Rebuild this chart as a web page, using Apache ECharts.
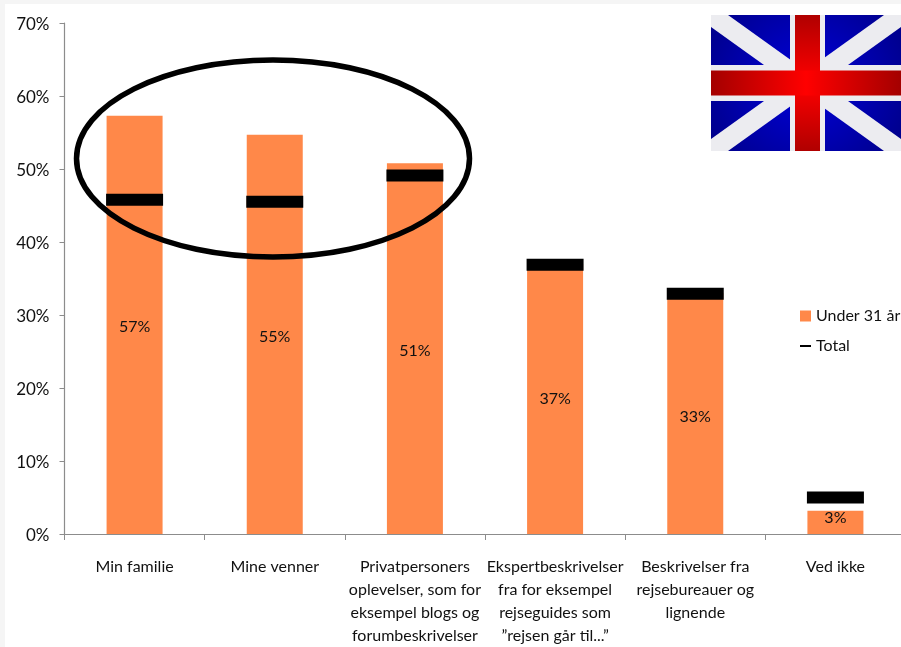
<!DOCTYPE html>
<html>
<head>
<meta charset="utf-8">
<style>
  html, body { margin: 0; padding: 0; width: 901px; height: 647px; background: #f5f5f5; overflow: hidden; }
  #sheet { position: absolute; left: 5px; top: 4px; right: 0; bottom: 0; background: #ffffff; }
  #chart { position: absolute; left: 0; top: 0; width: 930px; height: 647px; }
</style>
</head>
<body>
<div id="sheet"></div>
<div id="chart"></div>
<script src="https://cdn.jsdelivr.net/npm/echarts@6/dist/echarts.min.js"></script>
<script>
const categories = [
  'Min familie',
  'Mine venner',
  'Privatpersoners\noplevelser, som for\neksempel blogs og\nforumbeskrivelser',
  'Ekspertbeskrivelser\nfra for eksempel\nrejseguides som\n”rejsen går til...”',
  'Beskrivelser fra\nrejsebureauer og\nlignende',
  'Ved ikke'
];
const under31 = [57.3, 54.7, 50.8, 37, 33, 3.2];
const total = [45.8, 45.5, 49.1, 36.9, 32.9, 5.0];
const yTicks = [0, 10, 20, 30, 40, 50, 60, 70];
const labelNudge = [2, 2, 2, 0, 3, -4];

const FONT = 'Lato';
const INK = '#111111';
const AXIS = '#8c8c8c';

// Flag emblem, drawn in local coordinates inside a group in the upper right corner
const W = 190, H = 136, CX = 96, CY = 68;
const flagBlue = { type: 'radial', x: 0.5, y: 0.5, r: 0.85, colorStops: [
  { offset: 0, color: '#0000dc' }, { offset: 1, color: '#000088' } ] };
const redAcross = { type: 'linear', x: 0, y: 0, x2: 1, y2: 0, colorStops: [
  { offset: 0, color: '#a40000' }, { offset: 0.5, color: '#ff0000' }, { offset: 1, color: '#a40000' } ] };
const redDown = { type: 'linear', x: 0, y: 0, x2: 0, y2: 1, colorStops: [
  { offset: 0, color: '#b00000' }, { offset: 0.5, color: '#ff0000' }, { offset: 1, color: '#b00000' } ] };
const flagWhite = '#ececf0';
const flagPieces = [
  { type: 'rect', shape: { x: 0, y: 0, width: W, height: H }, style: { fill: flagBlue } },
  { type: 'polygon', shape: { points: [[0, 0], [17, 0], [W, H - 12], [W, H], [W - 17, H], [0, 12]] }, style: { fill: flagWhite } },
  { type: 'polygon', shape: { points: [[W, 0], [W, 12], [17, H], [0, H], [0, H - 12], [W - 17, 0]] }, style: { fill: flagWhite } },
  { type: 'rect', shape: { x: CX - 17, y: 0, width: 35, height: H }, style: { fill: flagWhite } },
  { type: 'rect', shape: { x: 0, y: CY - 18, width: W, height: 36 }, style: { fill: flagWhite } },
  { type: 'rect', shape: { x: CX - 12, y: 0, width: 25, height: H }, style: { fill: redDown } },
  { type: 'rect', shape: { x: 0, y: CY - 12.5, width: W, height: 25 }, style: { fill: redAcross } }
];

const chart = echarts.init(document.getElementById('chart'), null, { renderer: 'canvas' });
chart.setOption({
  backgroundColor: 'transparent',
  animation: false,
  textStyle: { fontFamily: FONT, color: INK },
  grid: { left: 64.5, top: 23, width: 841, height: 511.5, containLabel: false },
  legend: {
    left: 795,
    top: 303,
    orient: 'vertical',
    itemWidth: 11,
    itemHeight: 11,
    itemGap: 14,
    selectedMode: false,
    textStyle: { fontFamily: FONT, fontSize: 16, color: INK, padding: [0, 0, 0, 0] },
    data: [
      { name: 'Under 31 år', icon: 'rect' },
      { name: 'Total', icon: 'path://M0 0H11V2H0Z' }
    ]
  },
  xAxis: {
    type: 'category',
    data: categories,
    axisLine: { lineStyle: { color: AXIS, width: 1.2 } },
    axisTick: { show: true, alignWithLabel: false, length: 6, lineStyle: { color: AXIS } },
    axisLabel: { interval: 0, fontFamily: FONT, fontSize: 16, color: INK, lineHeight: 23, margin: 21 }
  },
  yAxis: {
    type: 'value',
    min: 0,
    max: 70,
    interval: 10,
    splitLine: { show: false },
    axisLine: { show: true, lineStyle: { color: AXIS, width: 1.2 } },
    axisTick: { show: true, length: 5, lineStyle: { color: AXIS } },
    axisLabel: {
      margin: 15,
      formatter: v => (yTicks.includes(v) ? '{t|' + v + '%}' : ''),
      rich: { t: { fontFamily: FONT, fontSize: 17, color: INK, padding: [4, 0, 0, 0] } }
    }
  },
  series: [
    {
      name: 'Under 31 år',
      type: 'bar',
      barWidth: 56,
      itemStyle: { color: '#ff8849' },
      data: under31.map((v, i) => ({
        value: v,
        label: {
          show: true,
          position: 'inside',
          offset: [0, labelNudge[i]],
          formatter: Math.round(v) + '%',
          fontFamily: FONT,
          fontSize: 16,
          color: INK
        }
      }))
    },
    {
      name: 'Total',
      type: 'scatter',
      symbol: 'rect',
      symbolSize: [57, 12],
      itemStyle: { color: '#000000', opacity: 1 },
      z: 5,
      data: total
    }
  ],
  graphic: [
    { type: 'group', x: 711, y: 15, children: flagPieces },
    {
      type: 'ellipse',
      shape: { cx: 273, cy: 158.5, rx: 196.5, ry: 98.5 },
      style: { fill: 'none', stroke: '#000000', lineWidth: 5.5 },
      z: 10
    }
  ]
});
</script>
</body>
</html>
